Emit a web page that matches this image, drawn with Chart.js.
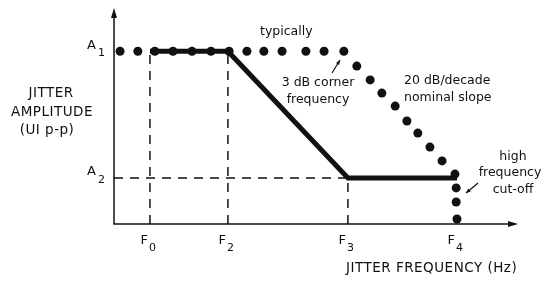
<!DOCTYPE html>
<html>
<head>
    <title>Jitter tolerance mask</title>
    <script src="https://cdn.jsdelivr.net/npm/chart.js"></script>
    <style>
        body { margin: 0; background: #fff; }
        #box { width: 543px; height: 281px; position: relative; }
    </style>
</head>
<body>
<div id="box"><canvas id="jitterChart"></canvas></div>
<script>
    // axis markers (position in chart units, x and y both 0..100)
    const freqNames = ['F', 'F', 'F', 'F'];
    const freqSubs = ['0', '2', '3', '4'];
    const freqPos = [8.9, 28.2, 57.9, 84.9];
    const ampNames = ['A', 'A'];
    const ampSubs = ['1', '2'];
    const ampPos = [80, 21.3];

    // solid mask line: F0..F2 at A1, down to A2 at F3, flat to F4
    const maskX = [8.9, 28.2, 57.9, 84.9];
    const maskY = [80, 80, 21.3, 21.3];

    // dotted "typically" curve
    const typX = [1.5, 5.9, 10.1, 14.6, 19.3, 24.0, 28.5, 32.9, 37.1, 41.6, 47.5, 52.0, 56.9,
                  60.1, 63.4, 66.3, 69.6, 72.5, 75.2, 78.2, 81.2, 84.4, 84.7, 84.7, 84.9];
    const typY = [80, 80, 80, 80, 80, 80, 80, 80, 80, 80, 80, 80, 80,
                  73.1, 66.7, 60.6, 54.6, 47.7, 42.1, 35.6, 29.2, 23.1, 16.7, 10.2, 2.3];

    const ink = '#111';
    const font = '12.5px "DejaVu Sans"';
    const capsFont = '13.5px "DejaVu Sans"';
    const markFont = '13px "DejaVu Sans"';
    const subFont = '11px "DejaVu Sans"';

    function pts(xs, ys) {
        return xs.map((x, i) => ({ x: x, y: ys[i] }));
    }

    function dashed(a) {
        return {
            data: pts(a[0], a[1]), showLine: true,
            borderColor: ink, borderWidth: 1.5, borderDash: [9, 7],
            pointRadius: 0, order: 3
        };
    }

    // text, subscripts, axes and arrows
    const decor = {
        id: 'decor',
        afterDatasetsDraw(chart) {
            const ctx = chart.ctx;
            const xs = chart.scales.x, ys = chart.scales.y;
            const x0 = xs.getPixelForValue(0), y0 = ys.getPixelForValue(0);
            const x1 = xs.getPixelForValue(100), y1 = ys.getPixelForValue(100);
            ctx.save();
            ctx.strokeStyle = ink;
            ctx.fillStyle = ink;
            ctx.lineWidth = 1.5;
            ctx.beginPath();
            ctx.moveTo(x0, y1 + 4); ctx.lineTo(x0, y0); ctx.lineTo(x1 - 4, y0);
            ctx.stroke();
            // arrow heads
            ctx.beginPath();
            ctx.moveTo(x0, y1); ctx.lineTo(x0 - 3, y1 + 10); ctx.lineTo(x0 + 3, y1 + 10); ctx.closePath();
            ctx.fill();
            ctx.beginPath();
            ctx.moveTo(x1, y0); ctx.lineTo(x1 - 10, y0 - 3); ctx.lineTo(x1 - 10, y0 + 3); ctx.closePath();
            ctx.fill();

            ctx.textBaseline = 'middle';
            // frequency markers
            freqPos.forEach((v, i) => {
                const px = xs.getPixelForValue(v);
                ctx.textAlign = 'right';
                ctx.font = markFont;
                ctx.fillText(freqNames[i], px - 2, y0 + 17);
                ctx.textAlign = 'left';
                ctx.font = subFont;
                ctx.fillText(freqSubs[i], px - 1, y0 + 24);
            });
            // amplitude markers
            ampPos.forEach((v, i) => {
                const py = ys.getPixelForValue(v);
                ctx.textAlign = 'right';
                ctx.font = markFont;
                ctx.fillText(ampNames[i], x0 - 18, py - 6);
                ctx.textAlign = 'left';
                ctx.font = subFont;
                ctx.fillText(ampSubs[i], x0 - 16, py + 2);
            });
            // axis titles (wide caps)
            ctx.font = capsFont;
            ctx.letterSpacing = '0.5px';
            ctx.textAlign = 'center';
            ctx.fillText('JITTER', 51, 93);
            ctx.fillText('AMPLITUDE', 52, 112);
            ctx.fillText('(UI p-p)', 47, 130);
            ctx.textAlign = 'left';
            ctx.fillText('JITTER FREQUENCY (Hz)', 346, 268);
            ctx.letterSpacing = '0px';
            // notes
            ctx.font = font;
            ctx.fillText('typically', 260, 32);
            ctx.textAlign = 'center';
            ctx.fillText('3 dB corner', 318, 83);
            ctx.fillText('frequency', 318, 100);
            ctx.textAlign = 'left';
            ctx.fillText('20 dB/decade', 404, 81);
            ctx.fillText('nominal slope', 404, 98);
            ctx.textAlign = 'center';
            ctx.fillText('high', 513, 157);
            ctx.fillText('frequency', 510, 173);
            ctx.fillText('cut-off', 513, 190);
            // pointer arrows
            const arrow = (ax, ay, bx, by) => {
                ctx.lineWidth = 1.2;
                ctx.beginPath(); ctx.moveTo(ax, ay); ctx.lineTo(bx, by); ctx.stroke();
                const a = Math.atan2(by - ay, bx - ax);
                ctx.beginPath();
                ctx.moveTo(bx, by);
                ctx.lineTo(bx - 5 * Math.cos(a - 0.4), by - 5 * Math.sin(a - 0.4));
                ctx.lineTo(bx - 5 * Math.cos(a + 0.4), by - 5 * Math.sin(a + 0.4));
                ctx.closePath(); ctx.fill();
            };
            arrow(332, 73, 340, 60);
            arrow(478, 183, 466, 193);
            ctx.restore();
        }
    };

    new Chart(document.getElementById('jitterChart'), {
        type: 'scatter',
        data: {
            datasets: [
                {
                    data: pts(maskX, maskY), showLine: true,
                    borderColor: ink, borderWidth: 5, pointRadius: 0,
                    borderJoinStyle: 'miter', order: 1
                },
                {
                    data: pts(typX, typY), showLine: false,
                    backgroundColor: ink, borderWidth: 0, pointRadius: 4.5, order: 2
                },
                dashed([[freqPos[0], freqPos[0]], [0, ampPos[0]]]),
                dashed([[freqPos[1], freqPos[1]], [0, ampPos[0]]]),
                dashed([[freqPos[2], freqPos[2]], [0, ampPos[1]]]),
                dashed([[0, freqPos[2]], [ampPos[1], ampPos[1]]])
            ]
        },
        options: {
            responsive: true,
            maintainAspectRatio: false,
            animation: false,
            layout: { padding: { left: 114, right: 25, top: 8, bottom: 57 } },
            scales: {
                x: { type: 'linear', min: 0, max: 100, display: false },
                y: { type: 'linear', min: 0, max: 100, display: false }
            },
            plugins: { legend: { display: false }, tooltip: { enabled: false } }
        },
        plugins: [decor]
    });
</script>
</body>
</html>
